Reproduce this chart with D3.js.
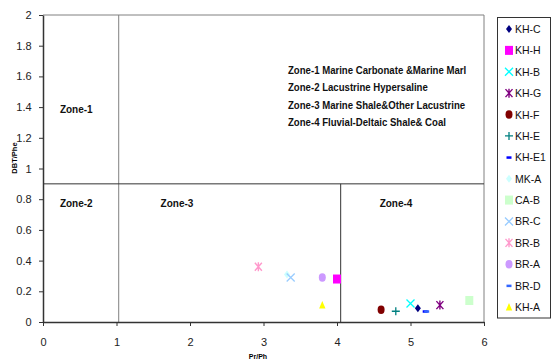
<!DOCTYPE html>
<html>
<head>
<meta charset="utf-8">
<script src="https://cdn.jsdelivr.net/npm/d3@7"></script>
<style>
  body { margin: 0; background: #fff; }
  text { font-family: "Liberation Sans", Arial, sans-serif; }
  .narrow { font-family: "Liberation Sans Narrow", "Arial Narrow", "Liberation Sans", sans-serif; font-weight: bold; }
</style>
</head>
<body>
<div id="chart"></div>
<script>
// samples and their values
var samples = ["KH-C", "KH-H", "KH-B", "KH-G", "KH-F", "KH-E", "KH-E1", "MK-A", "CA-B", "BR-C", "BR-B", "BR-A", "BR-D", "KH-A"];
var prPh = [5.1, 4.0, 5.0, 5.4, 4.6, 4.8, 5.2, 3.32, 5.8, 3.37, 2.93, 3.8, 5.22, 3.8];
var dbtPhe = [0.09, 0.28, 0.12, 0.11, 0.08, 0.07, 0.07, 0.31, 0.14, 0.29, 0.36, 0.29, 0.07, 0.11];
var symbols = ["diamond", "square", "x", "star", "circle", "plus", "dash", "diamond", "square", "x", "star", "circle", "dash", "triangle"];
var colors = ["#000080", "#ff00ff", "#00ffff", "#800080", "#800000", "#008080", "#0000ff", "#ccffff", "#ccffcc", "#99ccff", "#ff99cc", "#cc99ff", "#3366ff", "#ffff00"];

var xTicks = [0, 1, 2, 3, 4, 5, 6];
var yTicks = [0, 0.2, 0.4, 0.6, 0.8, 1, 1.2, 1.4, 1.6, 1.8, 2];

// zone boundaries
var zoneX1 = 1.03, zoneX2 = 4.05, zoneY = 0.9;
var zoneNotes = [
  "Zone-1 Marine Carbonate &Marine Marl",
  "Zone-2 Lacustrine Hypersaline",
  "Zone-3 Marine Shale&Other Lacustrine",
  "Zone-4 Fluvial-Deltaic Shale& Coal"
];

var width = 552, height = 362;
var plot = { left: 43, right: 484, top: 15, bottom: 322 };

var svg = d3.select("#chart").append("svg")
  .attr("width", width)
  .attr("height", height);

var x = d3.scaleLinear().domain([0, 6]).range([plot.left, plot.right]);
var y = d3.scaleLinear().domain([0, 2]).range([plot.bottom, plot.top]);

// frame (top and right)
svg.append("path")
  .attr("d", "M" + plot.left + "," + plot.top + "H" + plot.right + "V" + plot.bottom)
  .attr("fill", "none")
  .attr("stroke", "#808080")
  .attr("stroke-width", 1);

// zone lines
svg.append("line")
  .attr("x1", x(zoneX1)).attr("x2", x(zoneX1))
  .attr("y1", y(2)).attr("y2", y(0))
  .attr("stroke", "#808080");
svg.append("line")
  .attr("x1", x(0)).attr("x2", x(6))
  .attr("y1", y(zoneY)).attr("y2", y(zoneY))
  .attr("stroke", "#333");
svg.append("line")
  .attr("x1", x(zoneX2)).attr("x2", x(zoneX2))
  .attr("y1", y(zoneY)).attr("y2", y(0))
  .attr("stroke", "#333");

// axes
var xAxis = svg.append("g")
  .attr("transform", "translate(0," + plot.bottom + ")")
  .call(d3.axisBottom(x).tickValues(xTicks).tickSize(4).tickSizeOuter(0).tickFormat(d3.format("d")));
var yAxis = svg.append("g")
  .attr("transform", "translate(" + plot.left + ",0)")
  .call(d3.axisLeft(y).tickValues(yTicks).tickSize(4).tickSizeOuter(0).tickFormat(function(d) { return d3.format("")(+d.toFixed(1)); }));

[xAxis, yAxis].forEach(function(a) {
  a.select(".domain").attr("stroke", "#333").attr("stroke-width", 1.5);
  a.selectAll(".tick line").attr("stroke", "#333");
  a.selectAll(".tick text")
    .attr("fill", "#222")
    .attr("font-size", "11px")
    .attr("font-family", "Liberation Sans Narrow, Liberation Sans, sans-serif");
});
xAxis.selectAll(".tick text").attr("dy", "1.5em");
yAxis.selectAll(".tick text").attr("dx", "-0.4em");

// axis titles
svg.append("text")
  .attr("class", "narrow")
  .attr("x", 258).attr("y", 359)
  .attr("text-anchor", "middle")
  .attr("font-size", "7px")
  .text("Pr/Ph");
svg.append("text")
  .attr("class", "narrow")
  .attr("transform", "translate(17,158) rotate(-90)")
  .attr("text-anchor", "middle")
  .attr("font-size", "7.5px")
  .text("DBT/Phe");

// zone labels
var zoneLabels = [
  { t: "Zone-1", x: 0.23, y: 1.36 },
  { t: "Zone-2", x: 0.23, y: 0.75 },
  { t: "Zone-3", x: 1.6, y: 0.75 },
  { t: "Zone-4", x: 4.58, y: 0.75 }
];
svg.selectAll(".zone")
  .data(zoneLabels)
  .enter().append("text")
  .attr("class", "narrow")
  .attr("x", function(d) { return x(d.x); })
  .attr("y", function(d) { return y(d.y); })
  .attr("font-size", "10px")
  .attr("fill", "#111")
  .text(function(d) { return d.t; });

svg.selectAll(".note")
  .data(zoneNotes)
  .enter().append("text")
  .attr("class", "narrow")
  .attr("x", 288)
  .attr("y", function(d, i) { return 74 + i * 17.3; })
  .attr("font-size", "10px")
  .attr("fill", "#111")
  .text(function(d) { return d; })
  .each(function() {
    // the source type is a touch tighter than Liberation Narrow
    d3.select(this)
      .attr("textLength", this.getComputedTextLength() * 0.96)
      .attr("lengthAdjust", "spacingAndGlyphs");
  });

// marker shapes
function drawSymbol(g, kind, color) {
  if (kind === "diamond") {
    g.append("path").attr("d", "M0,-4L3,0L0,4L-3,0Z").attr("fill", color);
  } else if (kind === "square") {
    g.append("rect").attr("x", -4).attr("y", -4.5).attr("width", 8).attr("height", 9).attr("fill", color);
  } else if (kind === "x") {
    g.append("path").attr("d", "M-4,-4L4,4M-4,4L4,-4").attr("stroke", color).attr("stroke-width", 1.3);
  } else if (kind === "star") {
    g.append("path").attr("d", "M-3.5,-4L3.5,4M-3.5,4L3.5,-4M0,-4.5V4.5").attr("stroke", color).attr("stroke-width", 1.4);
  } else if (kind === "circle") {
    g.append("ellipse").attr("rx", 3.5).attr("ry", 4.2).attr("fill", color);
  } else if (kind === "plus") {
    g.append("path").attr("d", "M-4,0H4M0,-4V4").attr("stroke", color).attr("stroke-width", 1.3);
  } else if (kind === "dash") {
    g.append("rect").attr("x", -2.5).attr("y", -1).attr("width", 5).attr("height", 2.5).attr("fill", color);
  } else if (kind === "triangle") {
    g.append("path").attr("d", "M0,-4L3.2,3.5H-3.2Z").attr("fill", color);
  }
}

// points
samples.forEach(function(s, i) {
  var g = svg.append("g")
    .attr("transform", "translate(" + x(prPh[i]) + "," + y(dbtPhe[i]) + ")");
  drawSymbol(g, symbols[i], colors[i]);
});

// legend
var legend = svg.append("g");
legend.append("rect")
  .attr("x", 497.5).attr("y", 17.5)
  .attr("width", 53).attr("height", 300.5)
  .attr("fill", "#fff")
  .attr("stroke", "#333");
var legendY = d3.scalePoint().domain(samples).range([29, 307]);
samples.forEach(function(s, i) {
  var g = legend.append("g")
    .attr("transform", "translate(509," + legendY(s) + ")");
  drawSymbol(g, symbols[i], colors[i]);
  legend.append("text")
    .attr("x", 515)
    .attr("y", legendY(s) + 4)
    .attr("font-size", "10.5px")
    .attr("font-family", "Liberation Sans Narrow, Liberation Sans, sans-serif")
    .attr("fill", "#111")
    .text(s);
});
</script>
</body>
</html>
